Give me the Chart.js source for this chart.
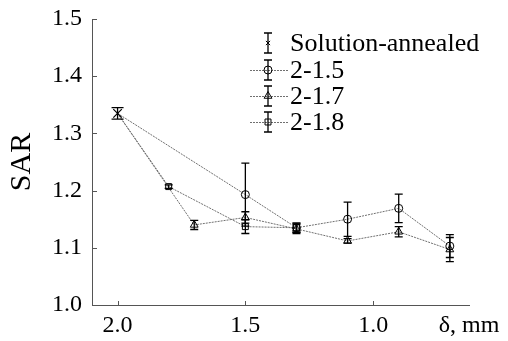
<!DOCTYPE html>
<html>
<head>
<meta charset="utf-8">
<script src="https://cdn.jsdelivr.net/npm/chart.js@4.4.0/dist/chart.umd.min.js"></script>
<style>
  body { margin: 0; background: #fff; }
  canvas { display: block; }
</style>
</head>
<body>
<canvas id="sar" width="508" height="341"></canvas>
<script>
// SAR vs delta, four series with error bars
var saX = [2.0];
var saY = [1.335];
var saErr = [0.01];

var s15X = [2.0, 1.5, 1.3, 1.1, 0.9, 0.7];
var s15Y = [1.335, 1.193, 1.135, 1.15, 1.169, 1.103];
var s15Err = [0, 0.055, 0.008, 0.03, 0.025, 0.02];

var s17X = [2.0, 1.7, 1.5, 1.3, 1.1, 0.9, 0.7];
var s17Y = [1.335, 1.14, 1.153, 1.133, 1.112, 1.128, 1.097];
var s17Err = [0, 0.008, 0.01, 0.008, 0.004, 0.009, 0.021];

var s18X = [2.0, 1.8, 1.5, 1.3];
var s18Y = [1.335, 1.207, 1.137, 1.135];
var s18Err = [0, 0.003, 0.012, 0.008];

var xTicks = [2.0, 1.5, 1.0];
var xUnitLabel = 'δ, mm';
var xMin = 0.625, xMax = 2.1;

var FONT = 'Liberation Serif';
var LINE = '#707070';

function pts(xs, ys) {
    return xs.map(function (x, i) { return { x: x, y: ys[i] }; });
}
function hideFirst(r) {
    return function (c) { return c.dataIndex === 0 ? 0 : r; };
}

var errorBars = {
    id: 'errorBars',
    afterDatasetsDraw: function (chart) {
        var ctx = chart.ctx, xs = chart.scales.x, ys = chart.scales.y;
        ctx.save();
        ctx.strokeStyle = '#000';
        ctx.lineWidth = 1.3;
        chart.data.datasets.forEach(function (ds) {
            ds.data.forEach(function (p, i) {
                var e = ds.errors[i];
                if (!e) return;
                var px = xs.getPixelForValue(p.x);
                var y1 = ys.getPixelForValue(p.y + e), y2 = ys.getPixelForValue(p.y - e);
                var w = ds.capHalf || 4;
                ctx.beginPath();
                ctx.moveTo(px, y1); ctx.lineTo(px, y2);
                ctx.moveTo(px - w, y1); ctx.lineTo(px + w, y1);
                ctx.moveTo(px - w, y2); ctx.lineTo(px + w, y2);
                ctx.stroke();
            });
        });
        ctx.restore();
    }
};

var innerTicks = {
    id: 'innerTicks',
    afterDraw: function (chart) {
        var ctx = chart.ctx, xs = chart.scales.x, ys = chart.scales.y, a = chart.chartArea;
        ctx.save();
        ctx.strokeStyle = '#555';
        ctx.lineWidth = 1;
        ctx.beginPath();
        xTicks.forEach(function (v) {
            var px = Math.round(xs.getPixelForValue(v)) + 0.5;
            ctx.moveTo(px, a.bottom); ctx.lineTo(px, a.bottom - 4);
        });
        ys.ticks.forEach(function (t) {
            var py = Math.round(ys.getPixelForValue(t.value)) + 0.5;
            ctx.moveTo(a.left, py); ctx.lineTo(a.left + 5, py);
        });
        ctx.stroke();
        ctx.restore();
    }
};

var sideLegend = {
    id: 'sideLegend',
    afterDraw: function (chart) {
        var ctx = chart.ctx;
        var x0 = 268, tx = 290, rowY = [43, 70, 96, 122];
        ctx.save();
        chart.data.datasets.forEach(function (ds, i) {
            var y = rowY[i];
            if (i > 0) {
                ctx.strokeStyle = LINE;
                ctx.lineWidth = 1;
                ctx.setLineDash([2, 1]);
                ctx.beginPath();
                ctx.moveTo(250, y + 0.5); ctx.lineTo(288, y + 0.5);
                ctx.stroke();
                ctx.setLineDash([]);
            }
            ctx.strokeStyle = '#000';
            ctx.lineWidth = 1.3;
            ctx.beginPath();
            ctx.moveTo(x0, y - 10); ctx.lineTo(x0, y + 10);
            ctx.moveTo(x0 - 4, y - 10); ctx.lineTo(x0 + 4, y - 10);
            ctx.moveTo(x0 - 4, y + 10); ctx.lineTo(x0 + 4, y + 10);
            ctx.stroke();
            ctx.lineWidth = 1;
            ctx.fillStyle = 'rgba(0,0,0,0)';
            Chart.helpers.drawPoint(ctx, {
                pointStyle: ds.pointStyle, radius: i === 0 ? 3 : ds.legendRadius,
                rotation: 0, borderWidth: 1
            }, x0, y);
            ctx.fillStyle = '#000';
            ctx.font = '26px "' + FONT + '"';
            ctx.textBaseline = 'middle';
            ctx.textAlign = 'left';
            ctx.fillText(ds.label, tx, y + 1);
        });
        ctx.restore();
    }
};

new Chart(document.getElementById('sar'), {
    type: 'line',
    data: {
        datasets: [
            {
                label: 'Solution-annealed',
                data: pts(saX, saY),
                errors: saErr,
                capHalf: 6,
                showLine: false,
                pointStyle: 'crossRot',
                pointRadius: 6,
                borderColor: '#000',
                backgroundColor: '#000',
                pointBorderWidth: 1.2
            },
            {
                label: '2-1.5',
                data: pts(s15X, s15Y),
                errors: s15Err,
                borderColor: LINE,
                borderWidth: 1,
                borderDash: [2, 1],
                pointStyle: 'circle',
                pointRadius: hideFirst(4),
                legendRadius: 4,
                pointBorderColor: '#000',
                pointBackgroundColor: 'rgba(0,0,0,0)',
                pointBorderWidth: 1
            },
            {
                label: '2-1.7',
                data: pts(s17X, s17Y),
                errors: s17Err,
                borderColor: LINE,
                borderWidth: 1,
                borderDash: [2, 1],
                pointStyle: 'triangle',
                pointRadius: hideFirst(4.5),
                legendRadius: 4.5,
                pointBorderColor: '#000',
                pointBackgroundColor: 'rgba(0,0,0,0)',
                pointBorderWidth: 1
            },
            {
                label: '2-1.8',
                data: pts(s18X, s18Y),
                errors: s18Err,
                borderColor: LINE,
                borderWidth: 1,
                borderDash: [2, 1],
                pointStyle: 'rect',
                pointRadius: hideFirst(4.2),
                legendRadius: 4.2,
                pointBorderColor: '#000',
                pointBackgroundColor: 'rgba(0,0,0,0)',
                pointBorderWidth: 1
            }
        ]
    },
    options: {
        responsive: false,
        animation: false,
        layout: { padding: { top: 19, right: 39, left: 0, bottom: 0 } },
        plugins: { legend: { display: false }, tooltip: { enabled: false } },
        elements: { line: { tension: 0 } },
        scales: {
            x: {
                type: 'linear',
                reverse: true,
                min: xMin,
                max: xMax,
                afterBuildTicks: function (s) {
                    s.ticks = xTicks.concat([xMin]).map(function (v) { return { value: v }; });
                },
                afterFit: function (s) { s.height = 36; },
                grid: { display: false, drawTicks: false },
                border: { display: true, color: '#555', width: 1 },
                ticks: {
                    padding: 6,
                    maxRotation: 0,
                    autoSkip: false,
                    color: '#000',
                    font: { family: FONT, size: 24 },
                    callback: function (v) { return v === xMin ? xUnitLabel : v.toFixed(1); }
                }
            },
            y: {
                min: 1.0,
                max: 1.5,
                afterFit: function (s) {
                    s.width = 92;
                    s.paddingTop = 0;
                    s.paddingBottom = 0;
                },
                grid: { display: false, drawTicks: false },
                border: { display: true, color: '#555', width: 1 },
                ticks: {
                    stepSize: 0.05,
                    padding: 10,
                    color: '#000',
                    font: { family: FONT, size: 24 },
                    callback: function (v) {
                        var k = Math.round(v * 100);
                        return k % 10 === 0 ? (k / 100).toFixed(1) : '';
                    }
                },
                title: {
                    display: true,
                    text: 'SAR',
                    color: '#000',
                    padding: { top: 4, bottom: 0 },
                    font: { family: FONT, size: 30 }
                }
            }
        }
    },
    plugins: [errorBars, innerTicks, sideLegend]
});
</script>
</body>
</html>
